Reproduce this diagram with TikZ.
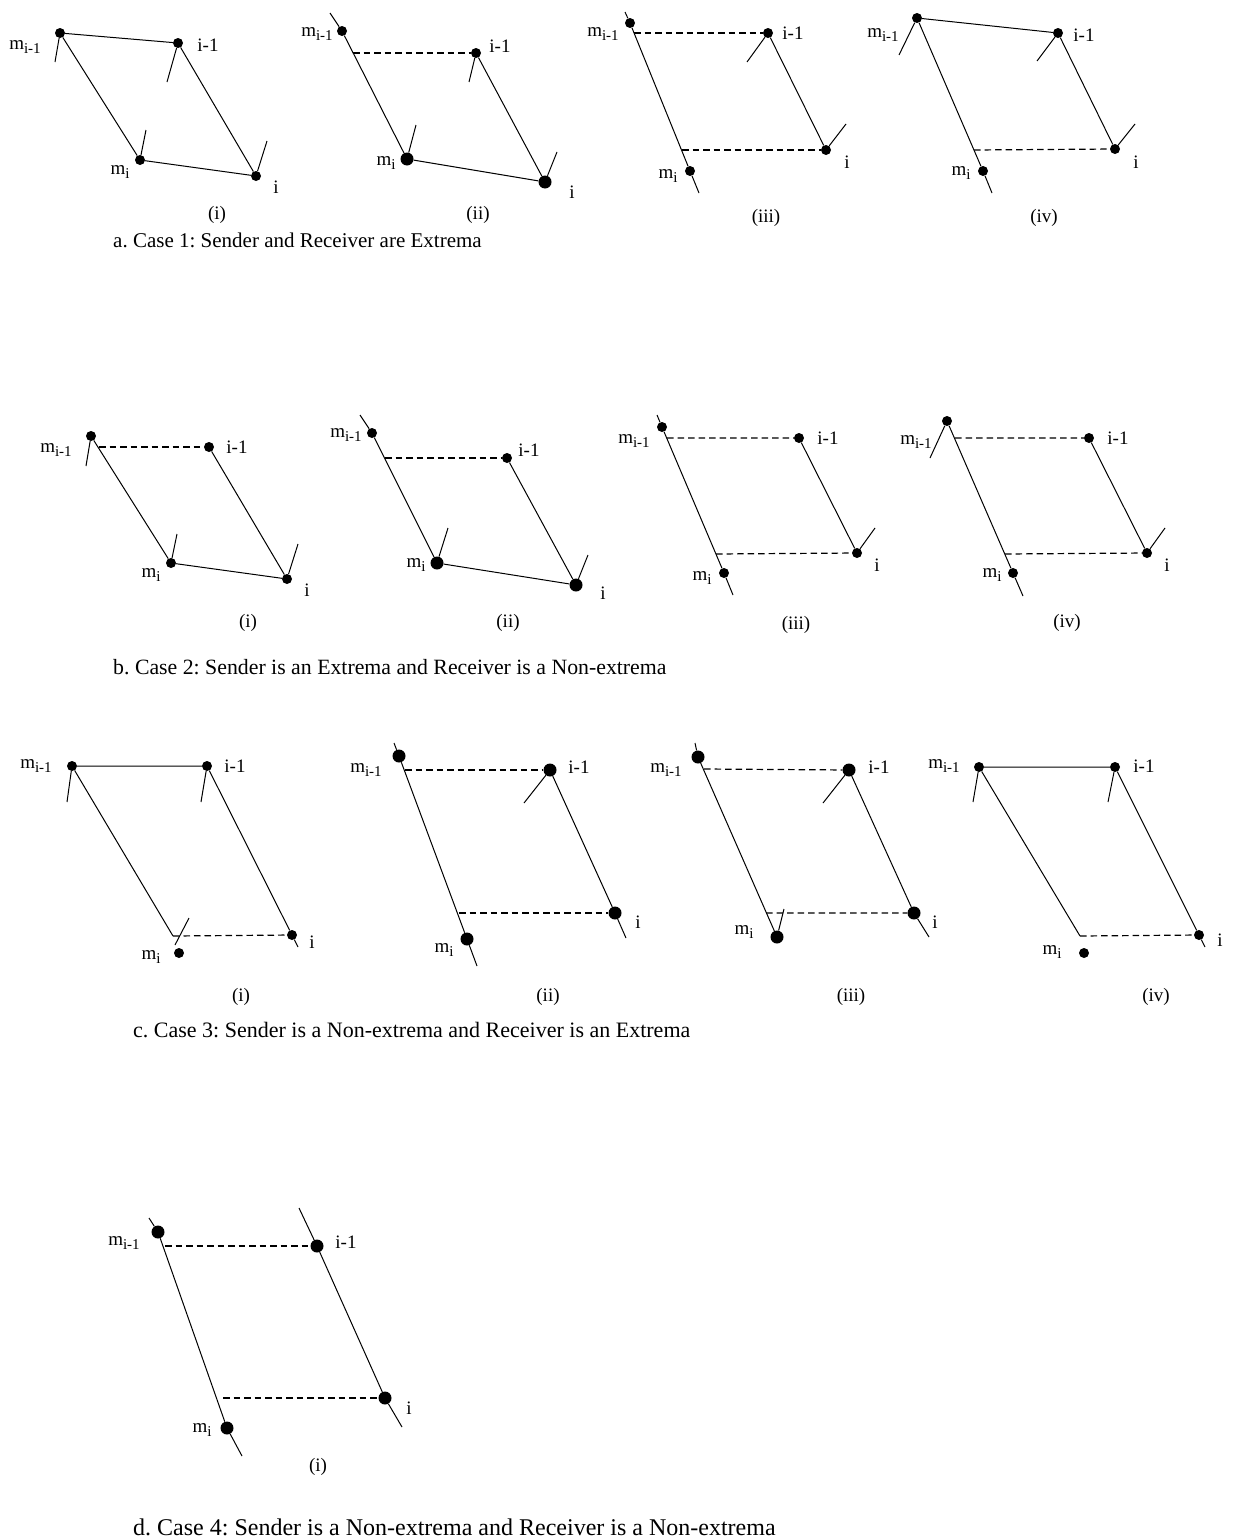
\documentclass[tikz,border=0pt]{standalone}
\usepackage{fontspec}
\setmainfont{Liberation Serif}
\usetikzlibrary{positioning}
\frenchspacing
\newcommand{\lsub}[1]{\raisebox{-0.4ex}{\fontsize{15}{15}\selectfont #1}}

\begin{document}
\begin{tikzpicture}[x=1pt, y=-1pt,
    dot/.style={circle, fill, inner sep=0pt, minimum size=10pt},
    bigdot/.style={dot, minimum size=13pt},
    lbl/.style={font=\fontsize{19}{22}\selectfont, inner sep=0pt},
    capt/.style={font=\fontsize{21}{24}\selectfont, inner sep=0pt, anchor=west},
    link/.style={line width=1pt},
    dlink/.style={line width=1.2pt, dash pattern=on 6.5pt off 4pt}]
  \useasboundingbox (0,0) rectangle (1232,1539);

  % ---- a. Case 1 ----
  % (i)
  \node[dot] (a1Mp) at (60,33) {};
  \node[dot] (a1Ip) at (178,43) {};
  \node[dot] (a1M) at (140,160) {};
  \node[dot] (a1I) at (256,176) {};
  \coordinate (a1t1) at (55,62);
  \coordinate (a1t2) at (167,82);
  \coordinate (a1t3) at (146,130);
  \coordinate (a1t4) at (267,141);
  \draw[link] (a1Mp) -- (a1Ip) (a1Mp) -- (a1M) (a1Ip) -- (a1I) (a1M) -- (a1I);
  \draw[link] (a1Mp) -- (a1t1) (a1Ip) -- (a1t2) (a1M) -- (a1t3) (a1I) -- (a1t4);
  \node[lbl] (a1Mpl) at (25,47) {m\lsub{i-1}};
  \node[lbl] (a1Ipl) at (208,45) {i-1};
  \node[lbl] (a1Ml) at (120,172) {m\lsub{i}};
  \node[lbl] (a1Il) at (276,187) {i};
  \node[lbl] (a1n) at (217,215) {(i)};
  % (ii)
  \coordinate (a2top) at (330,13);
  \node[dot] (a2Mp) at (342,31) {};
  \node[dot] (a2Ip) at (476,53) {};
  \node[bigdot] (a2M) at (407,159) {};
  \node[bigdot] (a2I) at (545,182) {};
  \coordinate (a2d) at (353,53);
  \coordinate (a2t2) at (469,82);
  \coordinate (a2t3) at (416,125);
  \coordinate (a2t4) at (557,152);
  \draw[link] (a2top) -- (a2Mp) -- (a2M) (a2Ip) -- (a2I) (a2M) -- (a2I);
  \draw[dlink] (a2d) -- (a2Ip);
  \draw[link] (a2Ip) -- (a2t2) (a2M) -- (a2t3) (a2I) -- (a2t4);
  \node[lbl] (a2Mpl) at (317,34) {m\lsub{i-1}};
  \node[lbl] (a2Ipl) at (500,46) {i-1};
  \node[lbl] (a2Ml) at (386,163) {m\lsub{i}};
  \node[lbl] (a2Il) at (572,192) {i};
  \node[lbl] (a2n) at (478,215) {(ii)};
  % (iii)
  \coordinate (a3top) at (625,12);
  \node[dot] (a3Mp) at (630,23) {};
  \node[dot] (a3M) at (690,171) {};
  \coordinate (a3bot) at (699,193);
  \node[dot] (a3Ip) at (768,33) {};
  \node[dot] (a3I) at (826,150) {};
  \coordinate (a3d1) at (634,33);
  \coordinate (a3d2) at (682,150);
  \coordinate (a3t2) at (747,62);
  \coordinate (a3t4) at (846,124);
  \draw[link] (a3top) -- (a3Mp) -- (a3M) -- (a3bot) (a3Ip) -- (a3I);
  \draw[dlink] (a3d1) -- (a3Ip) (a3d2) -- (a3I);
  \draw[link] (a3Ip) -- (a3t2) (a3I) -- (a3t4);
  \node[lbl] (a3Mpl) at (603,34) {m\lsub{i-1}};
  \node[lbl] (a3Ipl) at (793,33) {i-1};
  \node[lbl] (a3Ml) at (668,176) {m\lsub{i}};
  \node[lbl] (a3Il) at (847,162) {i};
  \node[lbl] (a3n) at (766,218) {(iii)};
  % (iv)
  \node[dot] (a4Mp) at (917,18) {};
  \node[dot] (a4Ip) at (1058,33) {};
  \node[dot] (a4M) at (983,171) {};
  \coordinate (a4bot) at (992,193);
  \node[dot] (a4I) at (1115,149) {};
  \coordinate (a4d) at (974,150);
  \coordinate (a4t1) at (899,55);
  \coordinate (a4t2) at (1037,61);
  \coordinate (a4t4) at (1135,124);
  \draw[link] (a4Mp) -- (a4Ip) (a4Mp) -- (a4M) -- (a4bot) (a4Ip) -- (a4I);
  \draw[dlink] (a4d) -- (a4I);
  \draw[link] (a4Mp) -- (a4t1) (a4Ip) -- (a4t2) (a4I) -- (a4t4);
  \node[lbl] (a4Mpl) at (883,35) {m\lsub{i-1}};
  \node[lbl] (a4Ipl) at (1084,35) {i-1};
  \node[lbl] (a4Ml) at (961,173) {m\lsub{i}};
  \node[lbl] (a4Il) at (1136,162) {i};
  \node[lbl] (a4n) at (1044,218) {(iv)};
  \node[capt] (acap) at (113,240) {a. Case 1: Sender and Receiver are Extrema};

  % ---- b. Case 2 ----
  % (i)
  \node[dot] (b1Mp) at (91,436) {};
  \node[dot] (b1Ip) at (209,447) {};
  \node[dot] (b1M) at (171,563) {};
  \node[dot] (b1I) at (287,579) {};
  \coordinate (b1d) at (99,447);
  \coordinate (b1t1) at (86,466);
  \coordinate (b1t3) at (177,534);
  \coordinate (b1t4) at (298,544);
  \draw[link] (b1Mp) -- (b1M) (b1Ip) -- (b1I) (b1M) -- (b1I);
  \draw[dlink] (b1d) -- (b1Ip);
  \draw[link] (b1Mp) -- (b1t1) (b1M) -- (b1t3) (b1I) -- (b1t4);
  \node[lbl] (b1Mpl) at (56,450) {m\lsub{i-1}};
  \node[lbl] (b1Ipl) at (237,447) {i-1};
  \node[lbl] (b1Ml) at (151,575) {m\lsub{i}};
  \node[lbl] (b1Il) at (307,590) {i};
  \node[lbl] (b1n) at (248,623) {(i)};
  % (ii)
  \coordinate (b2top) at (360,415);
  \node[dot] (b2Mp) at (372,433) {};
  \node[bigdot] (b2M) at (437,563) {};
  \node[dot] (b2Ip) at (507,458) {};
  \node[bigdot] (b2I) at (576,585) {};
  \coordinate (b2d) at (385,458);
  \coordinate (b2t3) at (448,528);
  \coordinate (b2t4) at (588,555);
  \draw[link] (b2top) -- (b2Mp) -- (b2M) (b2Ip) -- (b2I) (b2M) -- (b2I);
  \draw[dlink] (b2d) -- (b2Ip);
  \draw[link] (b2M) -- (b2t3) (b2I) -- (b2t4);
  \node[lbl] (b2Mpl) at (346,435) {m\lsub{i-1}};
  \node[lbl] (b2Ipl) at (529,450) {i-1};
  \node[lbl] (b2Ml) at (416,565) {m\lsub{i}};
  \node[lbl] (b2Il) at (603,593) {i};
  \node[lbl] (b2n) at (508,623) {(ii)};
  % (iii)
  \coordinate (b3top) at (657,415);
  \node[dot] (b3Mp) at (662,427) {};
  \node[dot] (b3M) at (724,573) {};
  \coordinate (b3bot) at (733,595);
  \node[dot] (b3Ip) at (799,438) {};
  \node[dot] (b3I) at (857,553) {};
  \coordinate (b3d1) at (667,438);
  \coordinate (b3d2) at (716,554);
  \coordinate (b3t4) at (875,528);
  \draw[link] (b3top) -- (b3Mp) -- (b3M) -- (b3bot) (b3Ip) -- (b3I);
  \draw[dlink] (b3d1) -- (b3Ip) (b3d2) -- (b3I);
  \draw[link] (b3I) -- (b3t4);
  \node[lbl] (b3Mpl) at (634,441) {m\lsub{i-1}};
  \node[lbl] (b3Ipl) at (828,438) {i-1};
  \node[lbl] (b3Ml) at (702,578) {m\lsub{i}};
  \node[lbl] (b3Il) at (877,565) {i};
  \node[lbl] (b3n) at (796,625) {(iii)};
  % (iv)
  \node[dot] (b4Mp) at (947,421) {};
  \node[dot] (b4Ip) at (1089,438) {};
  \node[dot] (b4M) at (1013,573) {};
  \coordinate (b4bot) at (1023,596);
  \node[dot] (b4I) at (1147,553) {};
  \coordinate (b4d1) at (955,438);
  \coordinate (b4d2) at (1005,554);
  \coordinate (b4t1) at (930,458);
  \coordinate (b4t4) at (1165,528);
  \draw[link] (b4Mp) -- (b4M) -- (b4bot) (b4Ip) -- (b4I);
  \draw[dlink] (b4d1) -- (b4Ip) (b4d2) -- (b4I);
  \draw[link] (b4Mp) -- (b4t1) (b4I) -- (b4t4);
  \node[lbl] (b4Mpl) at (916,442) {m\lsub{i-1}};
  \node[lbl] (b4Ipl) at (1118,438) {i-1};
  \node[lbl] (b4Ml) at (992,575) {m\lsub{i}};
  \node[lbl] (b4Il) at (1167,565) {i};
  \node[lbl] (b4n) at (1067,623) {(iv)};
  \node[capt, font=\fontsize{21.8}{24}\selectfont] (bcap) at (113,667) {b. Case 2: Sender is an Extrema and Receiver is a Non-extrema};

  % ---- c. Case 3 ----
  % (i)
  \node[dot] (c1Mp) at (72,766) {};
  \node[dot] (c1Ip) at (207,766) {};
  \node[dot] (c1I) at (292,935) {};
  \coordinate (c1bot) at (298,947);
  \coordinate (c1d) at (173,936);
  \node[dot] (c1M) at (179,953) {};
  \coordinate (c1t1) at (67,802);
  \coordinate (c1t2) at (201,802);
  \coordinate (c1t3a) at (175,945);
  \coordinate (c1t3b) at (189,918);
  \draw[link] (c1Mp) -- (c1Ip) (c1Mp) -- (c1d) (c1Ip) -- (c1I) -- (c1bot);
  \draw[dlink] (c1d) -- (c1I);
  \draw[link] (c1Mp) -- (c1t1) (c1Ip) -- (c1t2) (c1t3a) -- (c1t3b);
  \node[lbl] (c1Mpl) at (36,766) {m\lsub{i-1}};
  \node[lbl] (c1Ipl) at (235,766) {i-1};
  \node[lbl] (c1Ml) at (151,957) {m\lsub{i}};
  \node[lbl] (c1Il) at (312,942) {i};
  \node[lbl] (c1n) at (241,997) {(i)};
  % (ii)
  \coordinate (c2top) at (394,743);
  \node[bigdot] (c2Mp) at (399,756) {};
  \node[bigdot] (c2M) at (467,939) {};
  \coordinate (c2bot) at (477,966);
  \node[bigdot] (c2Ip) at (550,770) {};
  \node[bigdot] (c2I) at (615,913) {};
  \coordinate (c2bot2) at (626,938);
  \coordinate (c2d1) at (405,770);
  \coordinate (c2d2) at (459,913);
  \coordinate (c2t2) at (524,803);
  \draw[link] (c2top) -- (c2Mp) -- (c2M) -- (c2bot) (c2Ip) -- (c2I) -- (c2bot2);
  \draw[dlink] (c2d1) -- (c2Ip) (c2d2) -- (c2I);
  \draw[link] (c2Ip) -- (c2t2);
  \node[lbl] (c2Mpl) at (366,770) {m\lsub{i-1}};
  \node[lbl] (c2Ipl) at (579,767) {i-1};
  \node[lbl] (c2Ml) at (444,950) {m\lsub{i}};
  \node[lbl] (c2Il) at (638,922) {i};
  \node[lbl] (c2n) at (548,997) {(ii)};
  % (iii)
  \coordinate (c3top) at (695,743);
  \node[bigdot] (c3Mp) at (698,757) {};
  \node[bigdot] (c3M) at (777,937) {};
  \node[bigdot] (c3Ip) at (849,770) {};
  \node[bigdot] (c3I) at (914,913) {};
  \coordinate (c3bot) at (929,937);
  \coordinate (c3d1) at (704,769);
  \coordinate (c3d2) at (766,913);
  \coordinate (c3t2) at (823,803);
  \coordinate (c3t3) at (784,909);
  \draw[link] (c3top) -- (c3Mp) -- (c3M) (c3Ip) -- (c3I) -- (c3bot);
  \draw[dlink] (c3d1) -- (c3Ip) (c3d2) -- (c3I);
  \draw[link] (c3Ip) -- (c3t2) (c3M) -- (c3t3);
  \node[lbl] (c3Mpl) at (666,770) {m\lsub{i-1}};
  \node[lbl] (c3Ipl) at (879,767) {i-1};
  \node[lbl] (c3Ml) at (744,932) {m\lsub{i}};
  \node[lbl] (c3Il) at (935,922) {i};
  \node[lbl] (c3n) at (851,997) {(iii)};
  % (iv)
  \node[dot] (c4Mp) at (979,767) {};
  \node[dot] (c4Ip) at (1115,767) {};
  \node[dot] (c4I) at (1199,935) {};
  \coordinate (c4bot) at (1205,947);
  \coordinate (c4d) at (1080,936);
  \node[dot] (c4M) at (1084,953) {};
  \coordinate (c4t1) at (973,802);
  \coordinate (c4t2) at (1108,802);
  \draw[link] (c4Mp) -- (c4Ip) (c4Mp) -- (c4d) (c4Ip) -- (c4I) -- (c4bot);
  \draw[dlink] (c4d) -- (c4I);
  \draw[link] (c4Mp) -- (c4t1) (c4Ip) -- (c4t2);
  \node[lbl] (c4Mpl) at (944,766) {m\lsub{i-1}};
  \node[lbl] (c4Ipl) at (1144,766) {i-1};
  \node[lbl] (c4Ml) at (1052,952) {m\lsub{i}};
  \node[lbl] (c4Il) at (1220,940) {i};
  \node[lbl] (c4n) at (1156,997) {(iv)};
  \node[capt, font=\fontsize{22}{24}\selectfont] (ccap) at (133,1030) {c. Case 3: Sender is a Non-extrema and Receiver is an Extrema};

  % ---- d. Case 4 ----
  \coordinate (d1top) at (149,1218);
  \node[bigdot] (d1Mp) at (158,1232) {};
  \node[bigdot] (d1M) at (227,1428) {};
  \coordinate (d1bot) at (242,1456);
  \coordinate (d1top2) at (299,1208);
  \node[bigdot] (d1Ip) at (317,1246) {};
  \node[bigdot] (d1I) at (385,1398) {};
  \coordinate (d1bot2) at (402,1427);
  \coordinate (d1d1) at (165,1246);
  \coordinate (d1d2) at (223,1398);
  \draw[link] (d1top) -- (d1Mp) -- (d1M) -- (d1bot) (d1top2) -- (d1Ip) -- (d1I) -- (d1bot2);
  \draw[dlink] (d1d1) -- (d1Ip) (d1d2) -- (d1I);
  \node[lbl] (d1Mpl) at (124,1243) {m\lsub{i-1}};
  \node[lbl] (d1Ipl) at (346,1242) {i-1};
  \node[lbl] (d1Ml) at (202,1430) {m\lsub{i}};
  \node[lbl] (d1Il) at (409,1408) {i};
  \node[lbl] (d1n) at (318,1467) {(i)};
  \node[capt, font=\fontsize{24}{26}\selectfont] (dcap) at (133,1527) {d. Case 4: Sender is a Non-extrema and Receiver is a Non-extrema};
\end{tikzpicture}
\end{document}
